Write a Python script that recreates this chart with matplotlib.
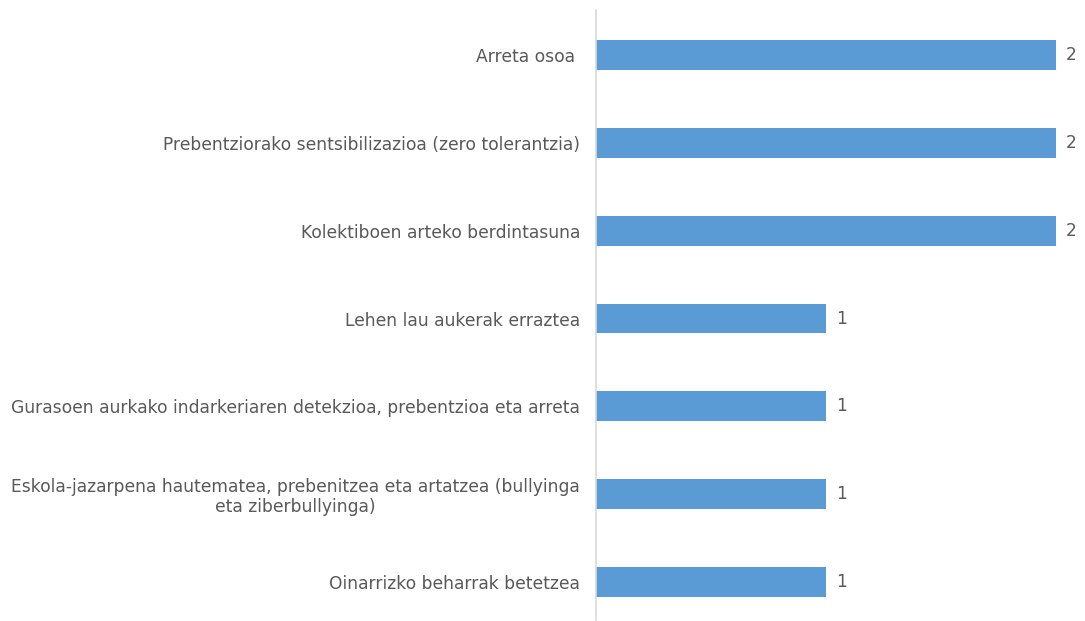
import matplotlib.pyplot as plt
import numpy as np

categories = [
    'Oinarrizko beharrak betetzea',
    'Eskola-jazarpena hautematea, prebenitzea eta artatzea (bullyinga\neta ziberbullyinga)',
    'Gurasoen aurkako indarkeriaren detekzioa, prebentzioa eta arreta',
    'Lehen lau aukerak erraztea',
    'Kolektiboen arteko berdintasuna',
    'Prebentziorako sentsibilizazioa (zero tolerantzia)',
    'Arreta osoa ',
]
values = [1, 1, 1, 1, 2, 2, 2]

bar_color = '#5B9BD5'
text_color = '#595959'

fig = plt.figure(figsize=(10.85, 6.21), dpi=100)
ax = fig.add_axes([596 / 1085, 1 / 621, (1085 - 596) / 1085, 610 / 621])

y = np.arange(len(categories))
bars = ax.barh(y, values, height=0.34, color=bar_color)

ax.set_xlim(0, 489 / 230)
ax.set_ylim(-0.43, 6.51)
ax.set_yticks(y)
ax.set_yticklabels(categories, fontsize=12.35, color=text_color,
                   multialignment='center', linespacing=1.1)
ax.tick_params(axis='y', length=0, pad=11.5)
ax.set_xticks([])

for s in ['top', 'right', 'bottom']:
    ax.spines[s].set_visible(False)
ax.spines['left'].set_color('#D9D9D9')
ax.spines['left'].set_linewidth(1.2)

for bar, v in zip(bars, values):
    ax.annotate(str(v), xy=(bar.get_width(), bar.get_y() + bar.get_height() / 2),
                xytext=(7, 0), textcoords='offset points',
                ha='left', va='center', fontsize=12.2, color=text_color)

fig.savefig('out.png', dpi=100)
